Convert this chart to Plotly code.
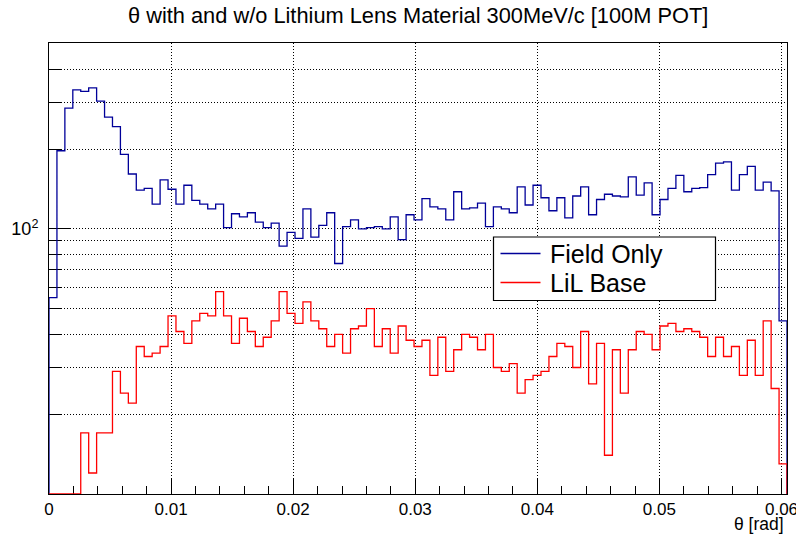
import numpy as np
import plotly.graph_objects as go

# Histogram binning: 93 bins of width 0.00065 rad starting at 0
bin_width = 0.00065
n_bins = 93

field_only = [
    55, 197, 285, 334, 330, 340, 303, 264, 243, 191,
    161, 140, 142, 124, 153, 141, 124, 146, 128, 124,
    119, 124, 101, 114, 111, 115, 106, 101, 105, 86,
    97, 92, 119, 93, 103, 115, 74, 102, 108, 100,
    101, 102, 100, 111, 91, 113, 108, 130, 121, 119,
    108, 138, 119, 120, 125, 102, 121, 119, 115, 144,
    123, 146, 131, 117, 131, 110, 133, 144, 113, 129,
    135, 133, 132, 157, 134, 149, 113, 129, 142, 159,
    138, 142, 143, 160, 177, 179, 140, 160, 172, 140,
    150, 139, 45,
]

lil_base = [
    0, 0, 0, 0, 17, 12, 17, 17, 29, 24,
    22, 36, 33, 34, 36, 47, 41, 37, 45, 48,
    47, 58, 47, 37, 46, 41, 36, 39, 45, 58,
    48, 44, 53, 45, 42, 36, 40, 34, 42, 43,
    50, 36, 42, 34, 43, 38, 36, 38, 28, 39,
    29, 35, 40, 39, 35, 40, 30, 29, 31, 24,
    27, 28, 29, 33, 37, 36, 30, 41, 26, 37,
    14, 35, 24, 35, 41, 40, 35, 43, 44, 41,
    42, 41, 39, 33, 39, 33, 36, 28, 38, 28,
    45, 25, 13,
]

series_names = ["Field Only", "LiL Base"]
series_colors = ["#000099", "#ff0000"]

x_tick_vals = [0, 0.01, 0.02, 0.03, 0.04, 0.05, 0.06]
x_tick_text = ["0", "0.01", "0.02", "0.03", "0.04", "0.05", "0.06"]
y_major_vals = [100]
y_major_text = ["10<sup>2</sup>"]
y_minor_vals = [20, 30, 40, 50, 60, 70, 80, 90, 200, 300, 400]

title_text = "θ with and w/o Lithium Lens Material 300MeV/c [100M POT]"
x_title = "θ [rad]"

y_log_min = 1.0
y_log_max = 2.7008
floor = 10 ** y_log_min

edges = np.arange(n_bins + 1) * bin_width
x_max = edges[-1]

# canvas geometry (pixels)
W, H = 796, 535
ML, MR, MT, MB = 49, 9, 43, 41
PW, PH = W - ML - MR, H - MT - MB


def px_to_paper_x(px):
    return (px - ML) / PW


def px_to_paper_y(py):
    return (H - MB - py) / PH


def step_outline(values):
    """ROOT-style histogram outline: rises from the baseline, steps across bins, drops back."""
    v = np.asarray(values, dtype=float)
    v = np.where(v > floor, v, floor)
    xs = np.concatenate([[edges[0]], edges[:-1], [edges[-1]], [edges[-1]]])
    ys = np.concatenate([[floor], v, [v[-1]], [floor]])
    return xs, ys


font_family = "Liberation Sans, Arial, Helvetica, sans-serif"

fig = go.Figure()
for name, color, vals in zip(series_names, series_colors, [field_only, lil_base]):
    xs, ys = step_outline(vals)
    fig.add_trace(go.Scatter(
        x=xs, y=ys, mode="lines", name=name,
        line=dict(color=color, width=1.3, shape="hv"),
        hoverinfo="skip", showlegend=False,
    ))

grid_dash = "1px,2px"

fig.update_layout(
    width=W, height=H,
    margin=dict(l=ML, r=MR, t=MT, b=MB, autoexpand=False),
    paper_bgcolor="white", plot_bgcolor="white",
    font=dict(family=font_family, color="black", size=17),
    showlegend=False,
    xaxis=dict(
        range=[0, x_max], showline=True, mirror=True, linecolor="black", linewidth=1,
        ticks="inside", ticklen=15, tickcolor="black",
        tickvals=x_tick_vals, ticktext=x_tick_text,
        showgrid=True, gridcolor="black", gridwidth=1, griddash=grid_dash,
        minor=dict(dtick=0.002, tick0=0, ticks="inside", ticklen=8, tickcolor="black", showgrid=False),
        zeroline=False, layer="below traces", automargin=False,
        tickfont=dict(size=17), ticklabeloverflow="allow",
    ),
    yaxis=dict(
        type="log", range=[y_log_min, y_log_max],
        showline=True, mirror=True, linecolor="black", linewidth=1,
        ticks="inside", ticklen=22, tickcolor="black",
        tickvals=y_major_vals, ticktext=y_major_text,
        showgrid=True, gridcolor="black", gridwidth=1, griddash=grid_dash,
        minor=dict(tickvals=y_minor_vals, ticks="inside", ticklen=12, tickcolor="black",
                   showgrid=True, gridcolor="black", gridwidth=1, griddash=grid_dash),
        zeroline=False, layer="below traces", automargin=False,
        tickfont=dict(size=18), ticklabelstandoff=6,
    ),
)

fig.add_annotation(
    text=title_text, xref="paper", yref="paper", x=0.5, y=px_to_paper_y(15),
    xanchor="center", yanchor="middle", showarrow=False,
    font=dict(size=21.8, family=font_family, color="black"),
)
fig.add_annotation(
    text=x_title, xref="paper", yref="paper", x=px_to_paper_x(786), y=px_to_paper_y(524),
    xanchor="right", yanchor="middle", showarrow=False,
    font=dict(size=17.5, family=font_family, color="black"),
)

# legend box with line samples and entry labels
box_l, box_r, box_t, box_b = 493.5, 715.5, 237, 300.5
fig.add_shape(type="rect", xref="paper", yref="paper",
              x0=px_to_paper_x(box_l), x1=px_to_paper_x(box_r),
              y0=px_to_paper_y(box_b), y1=px_to_paper_y(box_t),
              line=dict(color="black", width=1.2), fillcolor="white", layer="above")
row_y = [253.5, 282.5]
for name, color, ry in zip(series_names, series_colors, row_y):
    fig.add_shape(type="line", xref="paper", yref="paper",
                  x0=px_to_paper_x(500.5), x1=px_to_paper_x(540.5),
                  y0=px_to_paper_y(ry), y1=px_to_paper_y(ry),
                  line=dict(color=color, width=1.3), layer="above")
    fig.add_annotation(
        text=name, xref="paper", yref="paper", x=px_to_paper_x(548), y=px_to_paper_y(ry),
        xanchor="left", yanchor="middle", showarrow=False,
        font=dict(size=25, family=font_family, color="black"),
    )

fig.write_html("out.html")
